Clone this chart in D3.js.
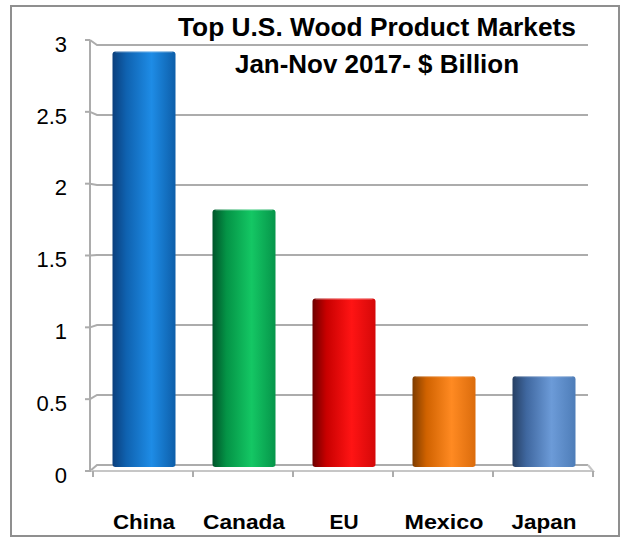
<!DOCTYPE html>
<html>
<head>
<meta charset="utf-8">
<script src="https://cdn.jsdelivr.net/npm/d3@7/dist/d3.min.js"></script>
<style>
  html, body { margin: 0; padding: 0; background: #fff; }
  svg { display: block; }
</style>
</head>
<body>
<svg id="chart" width="628" height="542"></svg>
<script>
// Top U.S. wood product export markets, Jan-Nov 2017, $ billion
const categories = ["China", "Canada", "EU", "Mexico", "Japan"];
const values = [2.92, 1.82, 1.2, 0.66, 0.66];
const yTicks = [0, 0.5, 1, 1.5, 2, 2.5, 3];
const titleLines = ["Top U.S. Wood Product Markets", "Jan-Nov 2017-  $ Billion"];

// cylinder shading per bar: [dark edge, mid, highlight, right edge]
const barShades = [
  ["#0b3f7c", "#0f62b0", "#1e8ce6", "#0d5ea9"],
  ["#00552a", "#049346", "#14c764", "#06954a"],
  ["#6e0000", "#c80000", "#ff1414", "#d40808"],
  ["#7e3c00", "#d06200", "#ff8a22", "#db6c0c"],
  ["#263f63", "#3f679f", "#6c9bd8", "#4e7db8"]
];

const svg = d3.select("#chart");

// outer frame
svg.append("rect")
  .attr("x", 11).attr("y", 6)
  .attr("width", 608).attr("height", 530)
  .attr("fill", "#fff")
  .attr("stroke", "#8f8f8f").attr("stroke-width", 2);

// front (axis) scale and back-wall scale of the 3-D plot
const y = d3.scaleLinear().domain([0, 3]).range([471, 40]);
const yBack = d3.scaleLinear().domain([0, 3]).range([465, 45]);
const x = d3.scaleBand().domain(categories)
  .range([94, 594]).paddingInner(0.37).paddingOuter(0.185);

const axisX = 90, backX = 97, backRight = 588, frontRight = 593;
const gridColor = "#acacac";

// gradients
const defs = svg.append("defs");
barShades.forEach((s, i) => {
  const g = defs.append("linearGradient")
    .attr("id", "bar" + i).attr("x1", "0%").attr("x2", "100%")
    .attr("y1", "0%").attr("y2", "0%");
  g.append("stop").attr("offset", "0%").attr("stop-color", s[0]);
  g.append("stop").attr("offset", "22%").attr("stop-color", s[1]);
  g.append("stop").attr("offset", "62%").attr("stop-color", s[2]);
  g.append("stop").attr("offset", "100%").attr("stop-color", s[3]);
});

// back-wall gridlines with the perspective step from the axis
const grid = svg.append("g");
yTicks.forEach(t => {
  grid.append("path")
    .attr("d", `M${axisX},${y(t)} L${backX},${yBack(t)} L${backRight},${yBack(t)}`)
    .attr("fill", "none").attr("stroke", gridColor).attr("stroke-width", 2);
});
// floor front edge and right side
grid.append("path")
  .attr("d", `M${backRight},${yBack(0)} L${frontRight},${y(0)} L${axisX},${y(0)}`)
  .attr("fill", "none").attr("stroke", "#c6c6c6").attr("stroke-width", 2);

// vertical axis line and ticks
svg.append("line")
  .attr("x1", axisX).attr("x2", axisX)
  .attr("y1", y(3)).attr("y2", y(0) + 1)
  .attr("stroke", gridColor).attr("stroke-width", 2);
svg.append("g").selectAll("line").data(yTicks).join("line")
  .attr("x1", axisX - 5).attr("x2", axisX)
  .attr("y1", d => y(d)).attr("y2", d => y(d))
  .attr("stroke", gridColor).attr("stroke-width", 2);

// category ticks along the floor front edge
const xTickPos = d3.range(categories.length + 1).map(i => 93 + i * 100);
svg.append("g").selectAll("line").data(xTickPos).join("line")
  .attr("x1", d => d).attr("x2", d => d)
  .attr("y1", y(0)).attr("y2", y(0) + 6)
  .attr("stroke", gridColor).attr("stroke-width", 2);

// y tick labels
svg.append("g").selectAll("text").data(yTicks).join("text")
  .attr("x", 67).attr("y", d => y(d) + 4)
  .attr("dy", "0.35em")
  .attr("text-anchor", "end")
  .attr("font-family", "'Liberation Sans', Arial, sans-serif")
  .attr("font-size", 22)
  .attr("fill", "#000")
  .text(d => d);

// bars
const barBase = y(0) - 4;
const bars = svg.append("g");
categories.forEach((c, i) => {
  const top = y(values[i]);
  bars.append("rect")
    .attr("x", x(c)).attr("y", top)
    .attr("width", x.bandwidth()).attr("height", barBase - top)
    .attr("rx", 3).attr("ry", 3)
    .attr("fill", `url(#bar${i})`);
  // soft rim at the cylinder top
  bars.append("line")
    .attr("x1", x(c) + 3).attr("x2", x(c) + x.bandwidth() - 3)
    .attr("y1", top + 0.5).attr("y2", top + 0.5)
    .attr("stroke", "#ffffff").attr("stroke-opacity", 0.35).attr("stroke-width", 1);
});

// category labels, spaced out to their printed widths
const labelWidths = [62, 82, 29, 79, 65];
svg.append("g").selectAll("text").data(categories).join("text")
  .attr("x", d => x(d) + x.bandwidth() / 2)
  .attr("y", 529)
  .attr("text-anchor", "middle")
  .attr("font-family", "'Liberation Sans', Arial, sans-serif")
  .attr("font-weight", "bold")
  .attr("font-size", 21)
  .attr("textLength", (d, i) => labelWidths[i])
  .attr("lengthAdjust", "spacingAndGlyphs")
  .attr("fill", "#000")
  .text(d => d);

// title
const titleY = [36, 73];
const titleW = [398, 284];
titleLines.forEach((t, i) => {
  svg.append("text")
    .attr("x", 377).attr("y", titleY[i])
    .attr("text-anchor", "middle")
    .attr("font-family", "'Liberation Sans', Arial, sans-serif")
    .attr("font-weight", "bold")
    .attr("font-size", 25)
    .attr("textLength", titleW[i])
    .attr("lengthAdjust", "spacingAndGlyphs")
    .attr("fill", "#000")
    .text(t);
});
</script>
</body>
</html>
